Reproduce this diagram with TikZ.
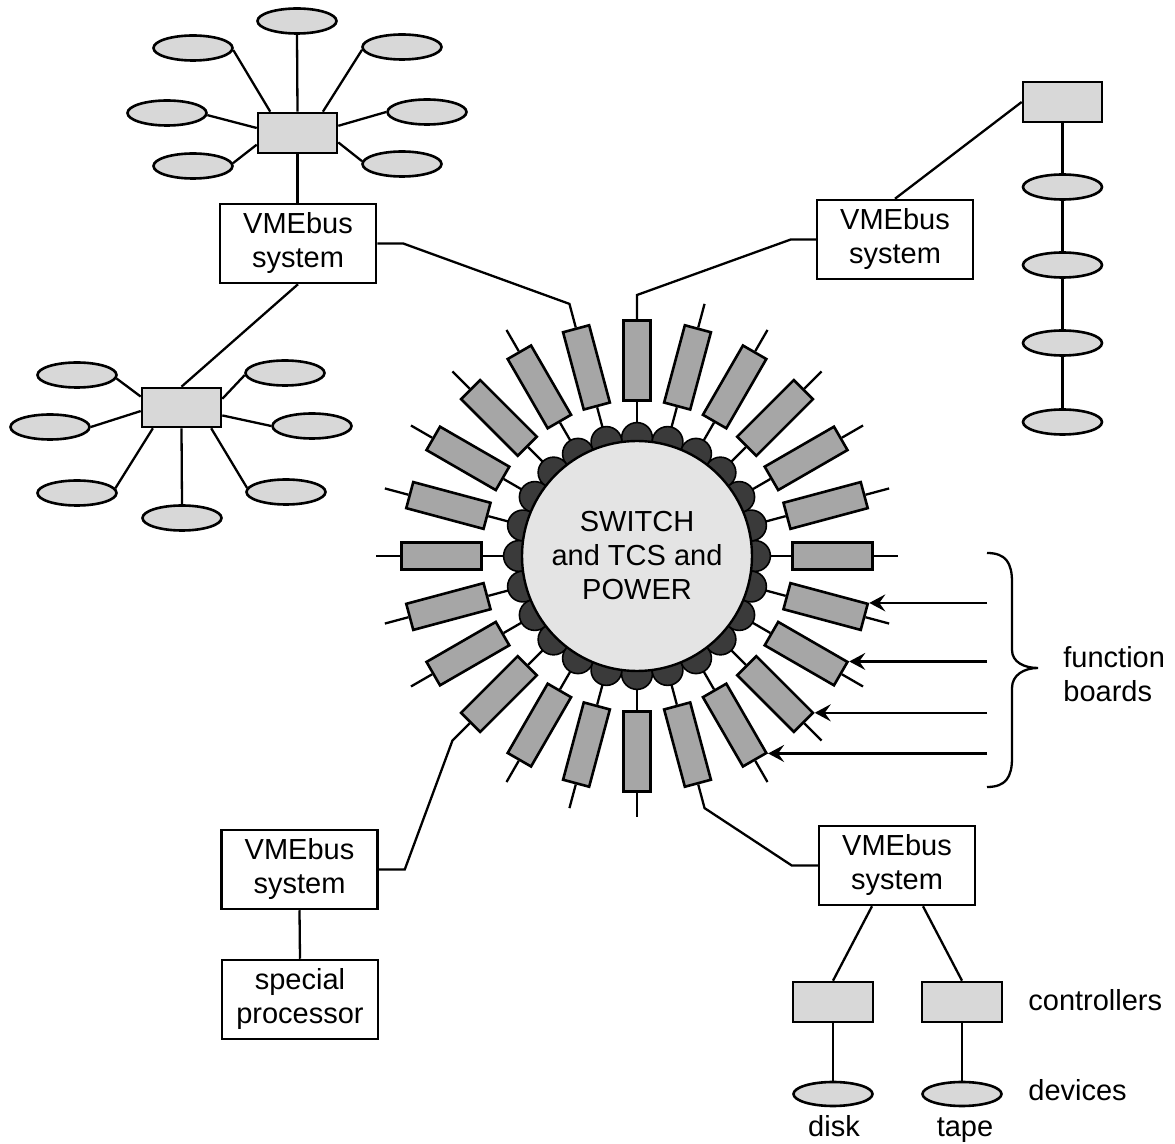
\documentclass[tikz,border=0pt]{standalone}
\usepackage{fontspec}
\setmainfont{Liberation Sans}
\usetikzlibrary{shapes.geometric,arrows.meta}
\definecolor{lightfill}{HTML}{D8D8D8}
\definecolor{hubfill}{HTML}{E4E4E4}
\definecolor{boardfill}{HTML}{A6A6A6}
\definecolor{bumpfill}{HTML}{3A3A3A}
\begin{document}
\begin{tikzpicture}[x=0.5pt,y=-0.5pt,
  font=\fontsize{14.5}{17}\selectfont,
  wire/.style={line width=1.15pt},
  sysbox/.style={draw, line width=1.25pt, minimum width=78pt, minimum height=39.5pt, inner sep=0pt, align=center},
  ctrl/.style={draw, line width=1.3pt, fill=lightfill, minimum width=39.5pt, minimum height=20pt, inner sep=0pt},
  dev/.style={draw, ellipse, line width=1.3pt, fill=lightfill, minimum width=39.5pt, minimum height=12.5pt, inner sep=0pt},
  board/.style={draw, line width=1.3pt, fill=boardfill, minimum width=40pt, minimum height=13.5pt, inner sep=0pt},
  txt/.style={inner sep=0pt},
  fbarrow/.style={line width=1.15pt, -{Stealth[length=8pt,width=8.5pt,inset=3pt]}},
]
\useasboundingbox (0,0) rectangle (1175,1144);
\coordinate (C) at (637,556);

% ---- ring of function boards around the hub ----
\begin{scope}[shift={(C)}, y=0.5pt]
  \foreach \a in {0,15,...,345} {
    \node[board, rotate=\a] (b\a) at (\a:195.25) {};
    \coordinate (hub\a) at (\a:118);
    \coordinate (end\a) at (\a:261);
  }
\end{scope}
\foreach \a in {0,15,...,345}
  \draw[wire] (hub\a) -- (b\a.west);
\foreach \a in {0,15,...,345}
  \draw[line width=0.8pt, fill=bumpfill] (hub\a) circle (7.7pt);
\node[circle, draw, line width=1.2pt, fill=hubfill, minimum size=115pt, inner sep=0pt, align=center] (hub) at (C)
  {SWITCH\\and TCS and\\POWER};
\foreach \a in {0,15,30,45,60,75,120,135,150,165,180,195,210,240,255,270,300,315,330,345}
  \draw[wire] (b\a.east) -- (end\a);

% ---- function board inputs and brace ----
\coordinate (fbx) at (987,0);
\foreach \a in {345,330,315,300}
  \draw[fbarrow] (b\a.north east -| fbx) -- (b\a.north east);
\draw[wire] (987,553) .. controls (1006,553) and (1012,563) .. (1012,582)
  -- (1012,650) .. controls (1012,662) and (1024,668) .. (1038,668)
  .. controls (1024,668) and (1012,675) .. (1012,688)
  -- (1012,758) .. controls (1012,777) and (1006,787) .. (987,787);
\node[txt, anchor=west, align=left] (fbtxt) at (1063,674) {function\\boards};

% ---- upper left VMEbus system ----
\node[ctrl] (cA) at (297.5,133) {};
\node[dev] (eA1) at (297,21) {};
\node[dev] (eA2) at (193,48) {};
\node[dev] (eA3) at (402,47) {};
\node[dev] (eA4) at (167,113) {};
\node[dev] (eA5) at (427,112) {};
\node[dev] (eA6) at (193,166) {};
\node[dev] (eA7) at (402,164) {};
\node[sysbox] (vA) at (298,243.5) {VMEbus\\system};
\draw[wire] (eA1.south) -- (cA.north);
\draw[wire] (eA2.-3) -- (cA.142);
\draw[wire] (eA3.184) -- (cA.40);
\draw[wire] (eA4.-3) -- (cA.173);
\draw[wire] (eA5.west) -- (cA.10);
\draw[wire] (eA6.4) -- (cA.196);
\draw[wire] (eA7.176) -- (cA.-13);
\draw[wire] (cA.south) -- (cA.south |- vA.north);
\draw[wire] (vA.east) -- ([xshift=13pt]vA.east) -- (end105) -- (b105.east);

% ---- lower left cluster hanging off the same system ----
\node[ctrl, minimum height=19.5pt] (cC) at (181.5,407.5) {};
\node[dev] (eC1) at (77,375) {};
\node[dev] (eC2) at (50,427) {};
\node[dev] (eC3) at (77,493) {};
\node[dev] (eC4) at (182,518) {};
\node[dev] (eC5) at (286,492) {};
\node[dev] (eC6) at (312,426) {};
\node[dev] (eC7) at (285,373) {};
\draw[wire] (vA.south) -- (cC.north);
\draw[wire] (eC1.-5) -- (cC.165);
\draw[wire] (eC2.east) -- (cC.185);
\draw[wire] (eC3.7) -- (cC.216);
\draw[wire] (eC4.north) -- (cC.south);
\draw[wire] (eC5.174) -- (cC.-35);
\draw[wire] (eC6.west) -- (cC.-11);
\draw[wire] (eC7.183) -- (cC.12);

% ---- upper right VMEbus system ----
\node[sysbox] (vB) at (895,239.5) {VMEbus\\system};
\node[ctrl] (cB) at (1062.5,102) {};
\node[dev] (eB1) at (1062.5,187) {};
\node[dev] (eB2) at (1062.5,265) {};
\node[dev] (eB3) at (1062.5,343) {};
\node[dev] (eB4) at (1062.5,422) {};
\draw[wire] (vB.north) -- (cB.west);
\draw[wire] (cB.south) -- (eB1.north);
\draw[wire] (eB1.south) -- (eB2.north);
\draw[wire] (eB2.south) -- (eB3.north);
\draw[wire] (eB3.south) -- (eB4.north);
\draw[wire] (vB.west) -- ([xshift=-12.5pt]vB.west) -- (end90) -- (b90.east);

% ---- lower left VMEbus system ----
\node[sysbox] (vD) at (299.5,869.5) {VMEbus\\system};
\node[sysbox] (sp) at (300,999.5) {special\\processor};
\draw[wire] (vD.south) -- (sp.north);
\draw[wire] (vD.east) -- ([xshift=13pt]vD.east) -- (end225) -- (b225.east);

% ---- lower right VMEbus system ----
\node[sysbox] (vE) at (897,865.5) {VMEbus\\system};
\node[ctrl, minimum width=40pt] (cE1) at (833,1002) {};
\node[ctrl, minimum width=40pt] (cE2) at (962,1002) {};
\node[dev, minimum height=12pt] (dE1) at (833,1094) {};
\node[dev, minimum height=12pt] (dE2) at (962,1094) {};
\draw[wire] ([xshift=-12.5pt]vE.south) -- (cE1.north);
\draw[wire] ([xshift=13pt]vE.south) -- (cE2.north);
\draw[wire] (cE1.south) -- (dE1.north);
\draw[wire] (cE2.south) -- (dE2.north);
\draw[wire] (vE.west) -- ([xshift=-13pt]vE.west) -- (end285) -- (b285.east);
\node[txt, anchor=west] (ctlt) at (1028,1000) {controllers};
\node[txt, anchor=west] (devt) at (1028,1090) {devices};
\node[txt, anchor=base] (disk) at (834,1137) {disk};
\node[txt, anchor=base] (tape) at (965,1137) {tape};
\end{tikzpicture}
\end{document}
